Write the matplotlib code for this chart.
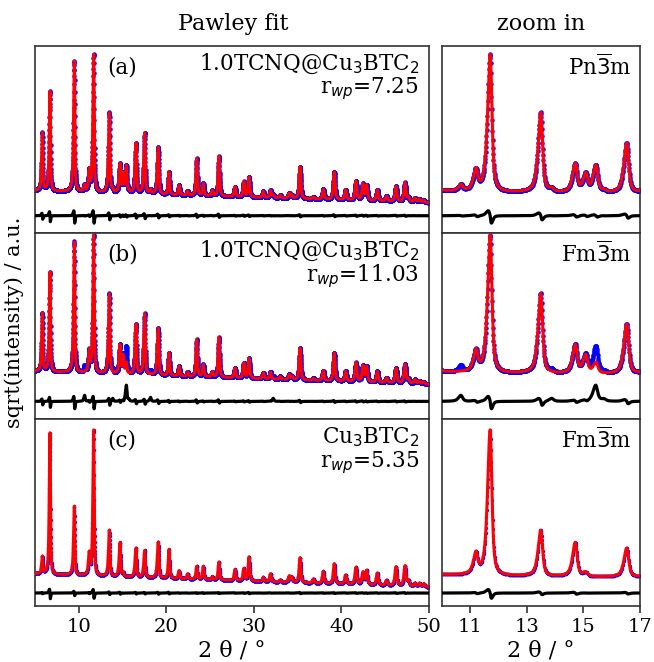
import numpy as np
import matplotlib
matplotlib.use("Agg")
import matplotlib.pyplot as plt

plt.rcParams['font.family'] = ['DejaVu Serif']

# ---------------- data ----------------
# Fm-3m allowed reflections (2theta, deg)
pos_F = [5.84, 6.71, 9.49, 11.20, 11.70, 13.49, 14.71, 15.08, 16.53, 17.53,
         19.08, 20.30, 21.45, 22.43, 23.47, 24.22, 25.25, 26.00, 27.84, 28.85,
         29.44, 31.07, 31.90, 33.00, 34.04, 34.35, 35.27, 36.79, 37.93, 39.18,
         40.48, 41.66, 42.45, 42.88, 44.10, 45.15, 46.23, 47.26, 47.65, 48.40,
         48.90, 49.40]
# peak heights above background, 1.0TCNQ@Cu3BTC2 sample
h_F_tcnq = [58, 100, 131, 20, 138, 80, 28, 18, 50, 61,
            47, 23, 10, 4, 37, 12, 5, 40, 10, 15,
            20, 6, 7, 3, 5, 3, 32, 2, 10, 28,
            10, 19, 16, 15, 11, 5, 15, 19, 4, 4,
            3, 2]
# peak heights above background, pristine Cu3BTC2
h_F_cu = [17, 142, 69, 20, 146, 46, 34, 4, 29, 27,
          36, 29, 8, 5, 13, 13, 3, 18, 11, 12,
          24, 4, 8, 2, 6, 5, 25, 4, 12, 20,
          9, 17, 12, 14, 12, 5, 19, 20, 5, 3,
          3, 3]
# extra primitive (Pn-3m only) reflections seen in the TCNQ sample
pos_P = [10.67, 13.88, 15.44, 15.73, 18.20, 32.20]
h_P_tcnq = [6, 3, 27, 2, 4, 3]
# what the Fm-3m refinement (panel b) puts at those positions
h_P_fit_b = [0, 0, 11, 0, 0, 0]

# linear background (value at 5 deg, value at 50 deg) per panel
bg_a = (42, 30)
bg_b = (48, 35)
bg_c = (32, 19)
# difference-curve offsets per panel
diff_off = [17, 18, 13]
# small peak-position misfit of the refined curve per panel (deg)
fit_shift = [0.006, 0.006, 0.004]

labels = ['(a)', '(b)', '(c)']
samples = ['1.0TCNQ@Cu$_3$BTC$_2$', '1.0TCNQ@Cu$_3$BTC$_2$', 'Cu$_3$BTC$_2$']
rwp = ['7.25', '11.03', '5.35']
groups = [r'Pn$\overline{3}$m', r'Fm$\overline{3}$m', r'Fm$\overline{3}$m']

# ---------------- model ----------------
x = np.arange(5.0, 50.0001, 0.01)


def profile(pos, hts, shift=0.0):
    y = np.zeros_like(x)
    for p, h in zip(pos, hts):
        p = p + shift
        wr = 0.055 + 0.0015 * p
        wl = wr * (1.5 if p < 20 else 1.1)
        w = np.where(x < p, wl, wr)
        u = (x - p) / w
        y += h * (0.7 / (1 + u ** 2) + 0.3 * np.exp(-np.log(2) * u ** 2))
    return y


def background(bg):
    return bg[0] + (bg[1] - bg[0]) * (x - 5.0) / 45.0


panels = []
# (a) Pn-3m fit : all peaks
obs = background(bg_a) + profile(pos_F, h_F_tcnq) + profile(pos_P, h_P_tcnq)
fit = (background(bg_a) + profile(pos_F, h_F_tcnq, fit_shift[0])
       + profile(pos_P, h_P_tcnq, fit_shift[0]))
panels.append((obs, fit))
# (b) Fm-3m fit : primitive reflections not described
obs = background(bg_b) + profile(pos_F, h_F_tcnq) + profile(pos_P, h_P_tcnq)
fit = (background(bg_b) + profile(pos_F, h_F_tcnq, fit_shift[1])
       + profile(pos_P, h_P_fit_b, fit_shift[1]))
panels.append((obs, fit))
# (c) pristine
obs = background(bg_c) + profile(pos_F, h_F_cu)
fit = background(bg_c) + profile(pos_F, h_F_cu, fit_shift[2])
panels.append((obs, fit))

# ---------------- figure ----------------
W, H = 654, 662
fig = plt.figure(figsize=(W / 100, H / 100), dpi=100)
gs = fig.add_gridspec(3, 2, width_ratios=[394, 198],
                      left=35 / W, right=640 / W, top=1 - 46 / H, bottom=1 - 606 / H,
                      wspace=13 / 296, hspace=0)

spine_col = '0.2'
fs_ann = 15.5
for i, (obs, fit) in enumerate(panels):
    diff = obs - fit + diff_off[i]
    for j in range(2):
        ax = fig.add_subplot(gs[i, j])
        ms = 3.2 if i < 2 else 2.4
        ax.plot(x, obs, 'o', color='blue', ms=ms, mew=0, zorder=2)
        ax.plot(x, fit, '-', color='red', lw=2.2, zorder=3)
        ax.plot(x, diff, '-', color='black', lw=2.3, zorder=3)
        ax.set_ylim(0, 187)
        ax.set_yticks([])
        for s in ax.spines.values():
            s.set_color(spine_col)
            s.set_linewidth(1.2)
        if j == 0:
            ax.set_xlim(5, 50)
            ax.set_xticks([10, 20, 30, 40, 50])
            ax.text(0.183, 0.885, labels[i], transform=ax.transAxes,
                    ha='left', va='center', fontsize=fs_ann)
            ax.text(0.975, 0.905, samples[i], transform=ax.transAxes,
                    ha='right', va='center', fontsize=fs_ann)
            ax.text(0.975, 0.77, r'r$_{wp}$=' + rwp[i], transform=ax.transAxes,
                    ha='right', va='center', fontsize=fs_ann)
        else:
            ax.set_xlim(10, 17)
            ax.set_xticks([11, 13, 15, 17])
            ax.text(0.96, 0.885, groups[i], transform=ax.transAxes,
                    ha='right', va='center', fontsize=fs_ann)
        ax.tick_params(axis='x', labelsize=14, length=5, width=1.2, color=spine_col)
        if i < 2:
            ax.tick_params(axis='x', bottom=False, labelbottom=False)
        else:
            ax.set_xlabel('2 θ / °', fontsize=16, labelpad=3)

fig.text(233 / W, 1 - 24 / H, 'Pawley fit', ha='center', va='center', fontsize=16)
fig.text(541 / W, 1 - 24 / H, 'zoom in', ha='center', va='center', fontsize=16)
fig.text(14 / W, 1 - 322 / H, 'sqrt(intensity) / a.u.', rotation=90,
         ha='center', va='center', fontsize=15)

fig.savefig('out.png', dpi=100)
